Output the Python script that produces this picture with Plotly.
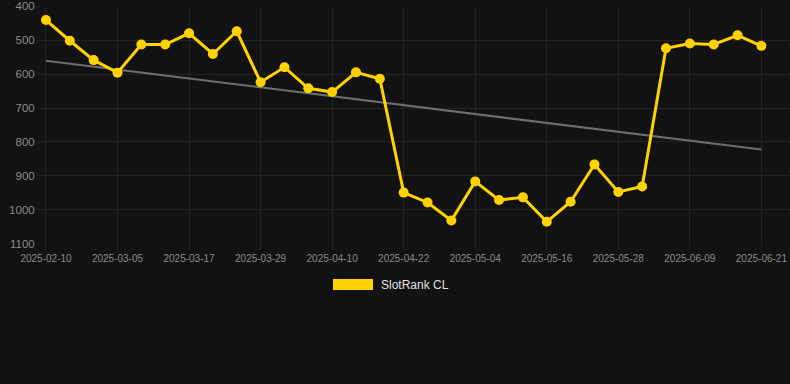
import numpy as np
import plotly.graph_objects as go

dates = ["2025-02-10", "2025-02-18", "2025-02-26", "2025-03-05", "2025-03-09", "2025-03-13",
         "2025-03-17", "2025-03-21", "2025-03-25", "2025-03-29", "2025-04-02", "2025-04-06",
         "2025-04-10", "2025-04-14", "2025-04-18", "2025-04-22", "2025-04-26", "2025-04-30",
         "2025-05-04", "2025-05-08", "2025-05-12", "2025-05-16", "2025-05-20", "2025-05-24",
         "2025-05-28", "2025-06-01", "2025-06-05", "2025-06-09", "2025-06-13", "2025-06-17",
         "2025-06-21"]
ranks = [441, 502, 559, 596, 513, 513, 480, 541, 474, 624, 580, 642, 653, 595, 614,
         949, 978, 1031, 916, 971, 963, 1035, 976, 866, 947, 931,
         524, 510, 513, 486, 517]
tick_labels = dates[::3]
y_ticks = [400, 500, 600, 700, 800, 900, 1000, 1100]
series_name = "SlotRank CL"

idx = np.arange(len(ranks))
slope, intercept = np.polyfit(idx, ranks, 1)
trend = slope * idx + intercept

GOLD = "#FFD200"
BG = "#121212"
GRID = "#222222"

fig = go.Figure()
fig.add_trace(go.Scatter(x=dates, y=trend, mode="lines",
                         line=dict(color="#6e6e6e", width=2), hoverinfo="skip",
                         showlegend=False))
fig.add_trace(go.Scatter(x=dates, y=ranks, mode="lines+markers", name=series_name,
                         line=dict(color=GOLD, width=3),
                         marker=dict(color=GOLD, size=10), showlegend=False))

fig.update_layout(
    width=790, height=384,
    paper_bgcolor=BG, plot_bgcolor=BG,
    margin=dict(l=40, r=0, t=6, b=140),
    font=dict(family="Liberation Sans, Arial, sans-serif", color="#888888"),
    xaxis=dict(type="category", categoryorder="array", categoryarray=dates,
               range=[-0.25, 31.2], tickmode="array", tickvals=tick_labels,
               ticktext=tick_labels, showgrid=True, gridcolor=GRID, gridwidth=1,
               ticks="outside", ticklen=5, tickcolor=GRID, zeroline=False,
               showline=False, tickfont=dict(size=10, color="#8a8a8a"),
               tickangle=0),
    yaxis=dict(range=[1100.3, 399.7], tickmode="array", tickvals=y_ticks,
               showgrid=True, gridcolor=GRID, gridwidth=1, zeroline=False,
               ticks="outside", ticklen=2, tickcolor=GRID,
               ticklabeloverflow="allow",
               showline=False, tickfont=dict(size=11.5, color="#8a8a8a")),
    showlegend=False,
)

fig.add_shape(type="rect", xref="paper", yref="paper",
              x0=(333 - 40) / 750, x1=(373 - 40) / 750,
              y0=(384 - 140 - 290) / 238, y1=(384 - 140 - 279) / 238,
              fillcolor=GOLD, line=dict(width=0))
fig.add_annotation(text=series_name, xref="paper", yref="paper",
                   x=(379 - 40) / 750, y=(384 - 140 - 284.5) / 238,
                   xanchor="left", yanchor="middle", showarrow=False,
                   font=dict(size=12, color="#e0e0e0"))

fig.write_html("out.html", config={"displayModeBar": False}, post_script=(
    "document.body.style.margin='0';"
    "document.body.style.background='#121212';"))
